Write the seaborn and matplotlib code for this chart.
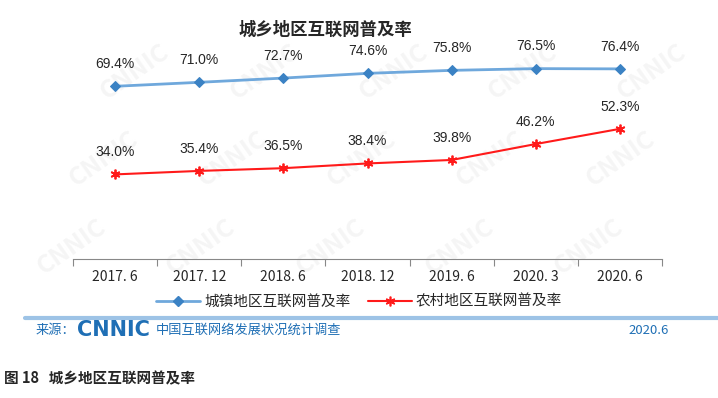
import pandas as pd
import numpy as np
import matplotlib.pyplot as plt
from matplotlib.lines import Line2D
import seaborn as sns

# datos
periods = ['2017. 6', '2017. 12', '2018. 6', '2018. 12', '2019. 6', '2020. 3', '2020. 6']
urban = [69.4, 71.0, 72.7, 74.6, 75.8, 76.5, 76.4]
rural = [34.0, 35.4, 36.5, 38.4, 39.8, 46.2, 52.3]
urban_name = '城镇地区互联网普及率'
rural_name = '农村地区互联网普及率'

df = pd.DataFrame({
    'pos': list(range(len(periods))) * 2,
    'value': urban + rural,
    'series': [urban_name] * len(periods) + [rural_name] * len(periods),
})

sns.set_style('white')
plt.rcParams['font.family'] = ['Noto Sans CJK SC', 'DejaVu Sans']

fig = plt.figure(figsize=(7.18, 3.98), dpi=100)
ax = fig.add_axes([0.1017, 0.3492, 0.8203, 0.5628])

# marca de agua CNNIC (tenue, dentro de la figura)
for yy in [0.38, 0.6, 0.82]:
    for xx in [0.1, 0.28, 0.46, 0.64, 0.82]:
        fig.text(xx + (yy - 0.38) * 0.2, yy, 'CNNIC', fontsize=18, fontweight='bold',
                 color='#f5f5f5', rotation=35, ha='center', va='center', zorder=-10)

blue_line = '#6fa8dc'
blue_mark = '#3b82c4'
red = '#ff1a1a'
asterisk = (6, 2, 0)

sns.lineplot(data=df[df.series == urban_name], x='pos', y='value', ax=ax,
             color=blue_line, linewidth=2, marker='D', markersize=5.5,
             markerfacecolor=blue_mark, markeredgecolor=blue_mark)
sns.lineplot(data=df[df.series == rural_name], x='pos', y='value', ax=ax,
             color=red, linewidth=1.5, marker=asterisk, markersize=7,
             markeredgecolor=red, markeredgewidth=1.3)

for i in range(len(periods)):
    ax.annotate(f'{urban[i]:.1f}%', (i, urban[i]), xytext=(0, 11), textcoords='offset points',
                ha='center', va='bottom', fontsize=10, family='Liberation Sans')
    ax.annotate(f'{rural[i]:.1f}%', (i, rural[i]), xytext=(0, 11), textcoords='offset points',
                ha='center', va='bottom', fontsize=10, family='Liberation Sans')

ax.set_xlim(-0.5, len(periods) - 0.5)
ax.set_ylim(0, 90)
ax.set_xticks(np.arange(-0.5, len(periods), 1.0))
ax.set_xticklabels([])
ax.set_xticks(range(len(periods)), minor=True)
ax.set_xticklabels(periods, minor=True, fontsize=10)
ax.tick_params(axis='x', which='major', length=5, color='#888888', direction='out', bottom=True)
ax.tick_params(axis='x', which='minor', length=0, pad=8)
ax.set_yticks([])
ax.set_xlabel('')
ax.set_ylabel('')
for s in ['top', 'right', 'left']:
    ax.spines[s].set_visible(False)
ax.spines['bottom'].set_color('#888888')
ax.patch.set_alpha(0)
if ax.get_legend() is not None:
    ax.get_legend().remove()

fig.text(0.453, 0.925, '城乡地区互联网普及率', ha='center', va='center',
         fontsize=12.5, fontweight='bold')

handles = [
    Line2D([], [], color=blue_line, linewidth=2, marker='D', markersize=5,
           markerfacecolor=blue_mark, markeredgecolor=blue_mark),
    Line2D([], [], color=red, linewidth=1.5, marker=asterisk, markersize=7,
           markeredgecolor=red, markeredgewidth=1.2),
]
fig.legend(handles, [urban_name, rural_name], loc='center', bbox_to_anchor=(0.5, 0.242),
           ncol=2, frameon=False, fontsize=10.5, handlelength=3, columnspacing=1.2,
           handletextpad=0.3)

# pie de fuente
fig.add_artist(Line2D([0.035, 1.0], [0.2, 0.2], color='#9dc3e6', linewidth=3))
fig.text(0.05, 0.17, '来源：', ha='left', va='center', fontsize=9.5, color='#1f6fb5')
fig.text(0.107, 0.17, 'CNNIC', ha='left', va='center', fontsize=15, fontweight='bold',
         color='#1f6fb5', family='DejaVu Sans')
fig.text(0.217, 0.17, '中国互联网络发展状况统计调查', ha='left', va='center', fontsize=9.5,
         color='#1f6fb5')
fig.text(0.932, 0.17, '2020.6', ha='right', va='center', fontsize=9.5, color='#1f6fb5')

fig.text(0.005, 0.05, '图 18   城乡地区互联网普及率', ha='left', va='center',
         fontsize=10.5, fontweight='bold')

fig.savefig('out.png', dpi=100)
